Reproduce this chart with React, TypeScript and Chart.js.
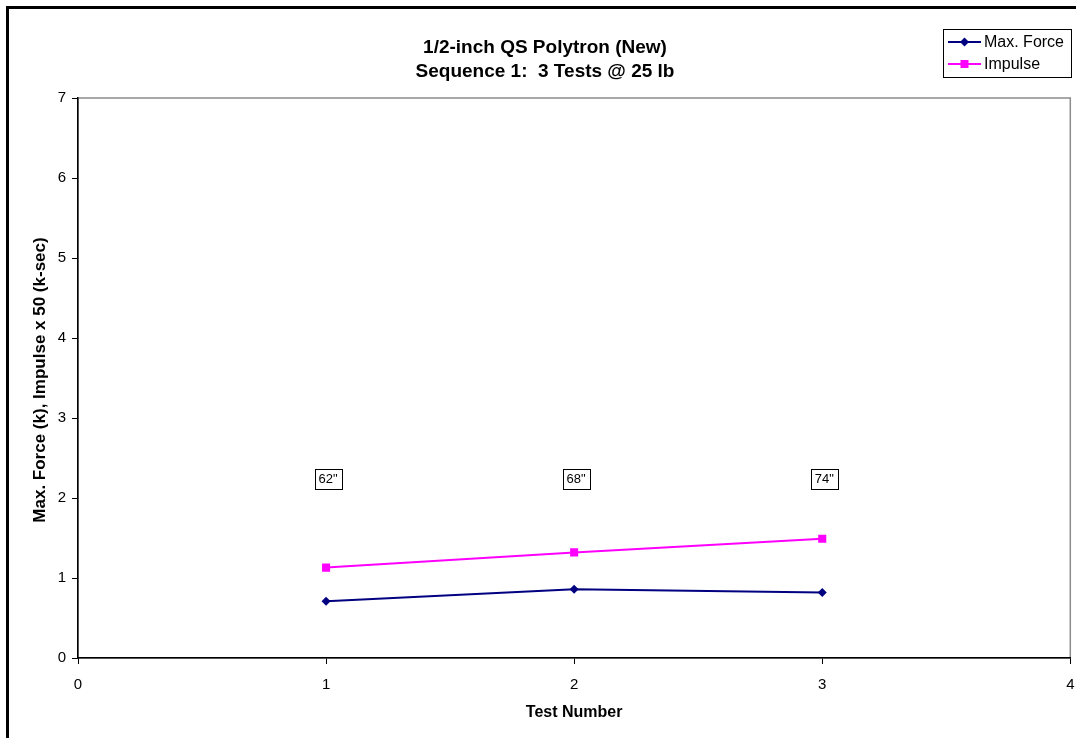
import React, { useEffect, useRef } from "react";
import { Chart, registerables } from "chart.js";

Chart.register(...registerables);

// Test numbers and measured values
const testNumbers = [1, 2, 3];
const maxForce = [0.71, 0.86, 0.82];
const impulse = [1.13, 1.32, 1.49];
const dropHeights = ['62"', '68"', '74"'];
const dropLabelLevel = 2.24;

const titleLines = ["1/2-inch QS Polytron (New)", "Sequence 1:  3 Tests @ 25 lb"];
const xTitle = "Test Number";
const yTitle = "Max. Force (k), Impulse x 50 (k-sec)";
const seriesNames = ["Max. Force", "Impulse"];

const NAVY = "#000080";
const MAGENTA = "#FF00FF";
const FONT = "'Liberation Sans', Arial, sans-serif";

const decorations = {
  id: "decorations",
  beforeDraw(chart: any) {
    const { ctx, chartArea: a } = chart;
    ctx.save();
    ctx.fillStyle = "#fff";
    ctx.fillRect(0, 0, chart.width, chart.height);
    // outer frame
    ctx.strokeStyle = "#000";
    ctx.lineWidth = 3;
    ctx.strokeRect(7.5, 7.5, chart.width + 20, chart.height + 20);
    // plot area frame
    ctx.strokeStyle = "#8c8c8c";
    ctx.lineWidth = 1.5;
    ctx.strokeRect(a.left, a.top, a.right - a.left, a.bottom - a.top);
    ctx.restore();
  },
  afterDraw(chart: any) {
    const { ctx, chartArea: a, scales } = chart;
    const xs = scales.x;
    const ys = scales.y;
    ctx.save();
    ctx.fillStyle = "#000";
    ctx.textAlign = "center";
    ctx.textBaseline = "alphabetic";
    // title
    ctx.font = `bold 19px ${FONT}`;
    ctx.fillText(titleLines[0], 545, 53);
    ctx.fillText(titleLines[1], 545, 77);
    // axis titles
    ctx.font = `bold 16px ${FONT}`;
    ctx.textBaseline = "middle";
    ctx.fillText(xTitle, (a.left + a.right) / 2, 713);
    ctx.save();
    ctx.font = `bold 17px ${FONT}`;
    ctx.translate(40, 380);
    ctx.rotate(-Math.PI / 2);
    ctx.fillText(yTitle, 0, 0);
    ctx.restore();

    // drop height labels
    ctx.font = `13px ${FONT}`;
    testNumbers.forEach((t, i) => {
      const cx = xs.getPixelForValue(t) + 2;
      const cy = ys.getPixelForValue(dropLabelLevel);
      const w = ctx.measureText(dropHeights[i]).width + 8;
      const h = 20;
      ctx.fillStyle = "#fff";
      ctx.fillRect(cx - w / 2, cy - h / 2, w, h);
      ctx.strokeStyle = "#000";
      ctx.lineWidth = 1;
      ctx.strokeRect(Math.round(cx - w / 2) + 0.5, Math.round(cy - h / 2) + 0.5, Math.round(w), h);
      ctx.fillStyle = "#000";
      ctx.fillText(dropHeights[i], cx, cy + 1);
    });

    // legend
    const lx = 943, ly = 29, lw = 128, lh = 48;
    ctx.fillStyle = "#fff";
    ctx.fillRect(lx, ly, lw, lh);
    ctx.strokeStyle = "#000";
    ctx.lineWidth = 1;
    ctx.strokeRect(lx + 0.5, ly + 0.5, lw, lh);
    const rows = [
      { y: 42, color: NAVY, name: seriesNames[0], shape: "diamond" },
      { y: 64, color: MAGENTA, name: seriesNames[1], shape: "square" },
    ];
    ctx.textAlign = "left";
    ctx.font = `16px ${FONT}`;
    rows.forEach((r) => {
      ctx.strokeStyle = r.color;
      ctx.lineWidth = 2;
      ctx.beginPath();
      ctx.moveTo(948, r.y);
      ctx.lineTo(981, r.y);
      ctx.stroke();
      ctx.fillStyle = r.color;
      ctx.beginPath();
      if (r.shape === "diamond") {
        ctx.moveTo(964.5 - 4.5, r.y);
        ctx.lineTo(964.5, r.y - 4.5);
        ctx.lineTo(964.5 + 4.5, r.y);
        ctx.lineTo(964.5, r.y + 4.5);
        ctx.closePath();
      } else {
        ctx.rect(960.5, r.y - 4, 8, 8);
      }
      ctx.fill();
      ctx.fillStyle = "#000";
      ctx.fillText(r.name, 984, r.y + 1);
    });
    ctx.restore();
  },
};

export default function App() {
  const ref = useRef<HTMLCanvasElement | null>(null);

  useEffect(() => {
    if (!ref.current) return;
    const chart = new Chart(ref.current, {
      type: "line",
      data: {
        datasets: [
          {
            label: seriesNames[0],
            data: testNumbers.map((t, i) => ({ x: t, y: maxForce[i] })),
            borderColor: NAVY,
            backgroundColor: NAVY,
            borderWidth: 2,
            pointStyle: "rectRot",
            pointRadius: 4.5,
            pointBorderWidth: 0,
          },
          {
            label: seriesNames[1],
            data: testNumbers.map((t, i) => ({ x: t, y: impulse[i] })),
            borderColor: MAGENTA,
            backgroundColor: MAGENTA,
            borderWidth: 2,
            pointStyle: "rect",
            pointRadius: 5.7,
            pointBorderWidth: 0,
          },
        ],
      },
      options: {
        animation: false,
        responsive: false,
        devicePixelRatio: 1,
        layout: { padding: { left: 0, top: 98, right: 2, bottom: 0 } },
        plugins: {
          legend: { display: false },
          title: { display: false },
          tooltip: { enabled: false },
        },
        scales: {
          x: {
            type: "linear",
            min: 0,
            max: 4,
            afterFit: (s: any) => {
              s.height = 80;
              s.paddingLeft = 0;
              s.paddingRight = 0;
            },
            ticks: {
              stepSize: 1,
              color: "#000",
              font: { family: FONT, size: 15 },
              padding: 12,
              maxRotation: 0,
            },
            grid: { drawOnChartArea: false, drawTicks: true, tickLength: 6, color: "#000" },
            border: { display: true, color: "#000", width: 1.5 },
          },
          y: {
            type: "linear",
            min: 0,
            max: 7,
            afterFit: (s: any) => {
              s.width = 78;
              s.paddingTop = 0;
              s.paddingBottom = 0;
            },
            ticks: {
              stepSize: 1,
              color: "#000",
              font: { family: FONT, size: 15 },
              padding: 6,
            },
            grid: { drawOnChartArea: false, drawTicks: true, tickLength: 6, color: "#000" },
            border: { display: true, color: "#000", width: 1.5 },
          },
        },
      },
      plugins: [decorations],
    });
    return () => chart.destroy();
  }, []);

  return (
    <canvas
      ref={ref}
      width={1076}
      height={738}
      style={{ position: "absolute", left: 0, top: 0, width: 1076, height: 738 }}
    />
  );
}
